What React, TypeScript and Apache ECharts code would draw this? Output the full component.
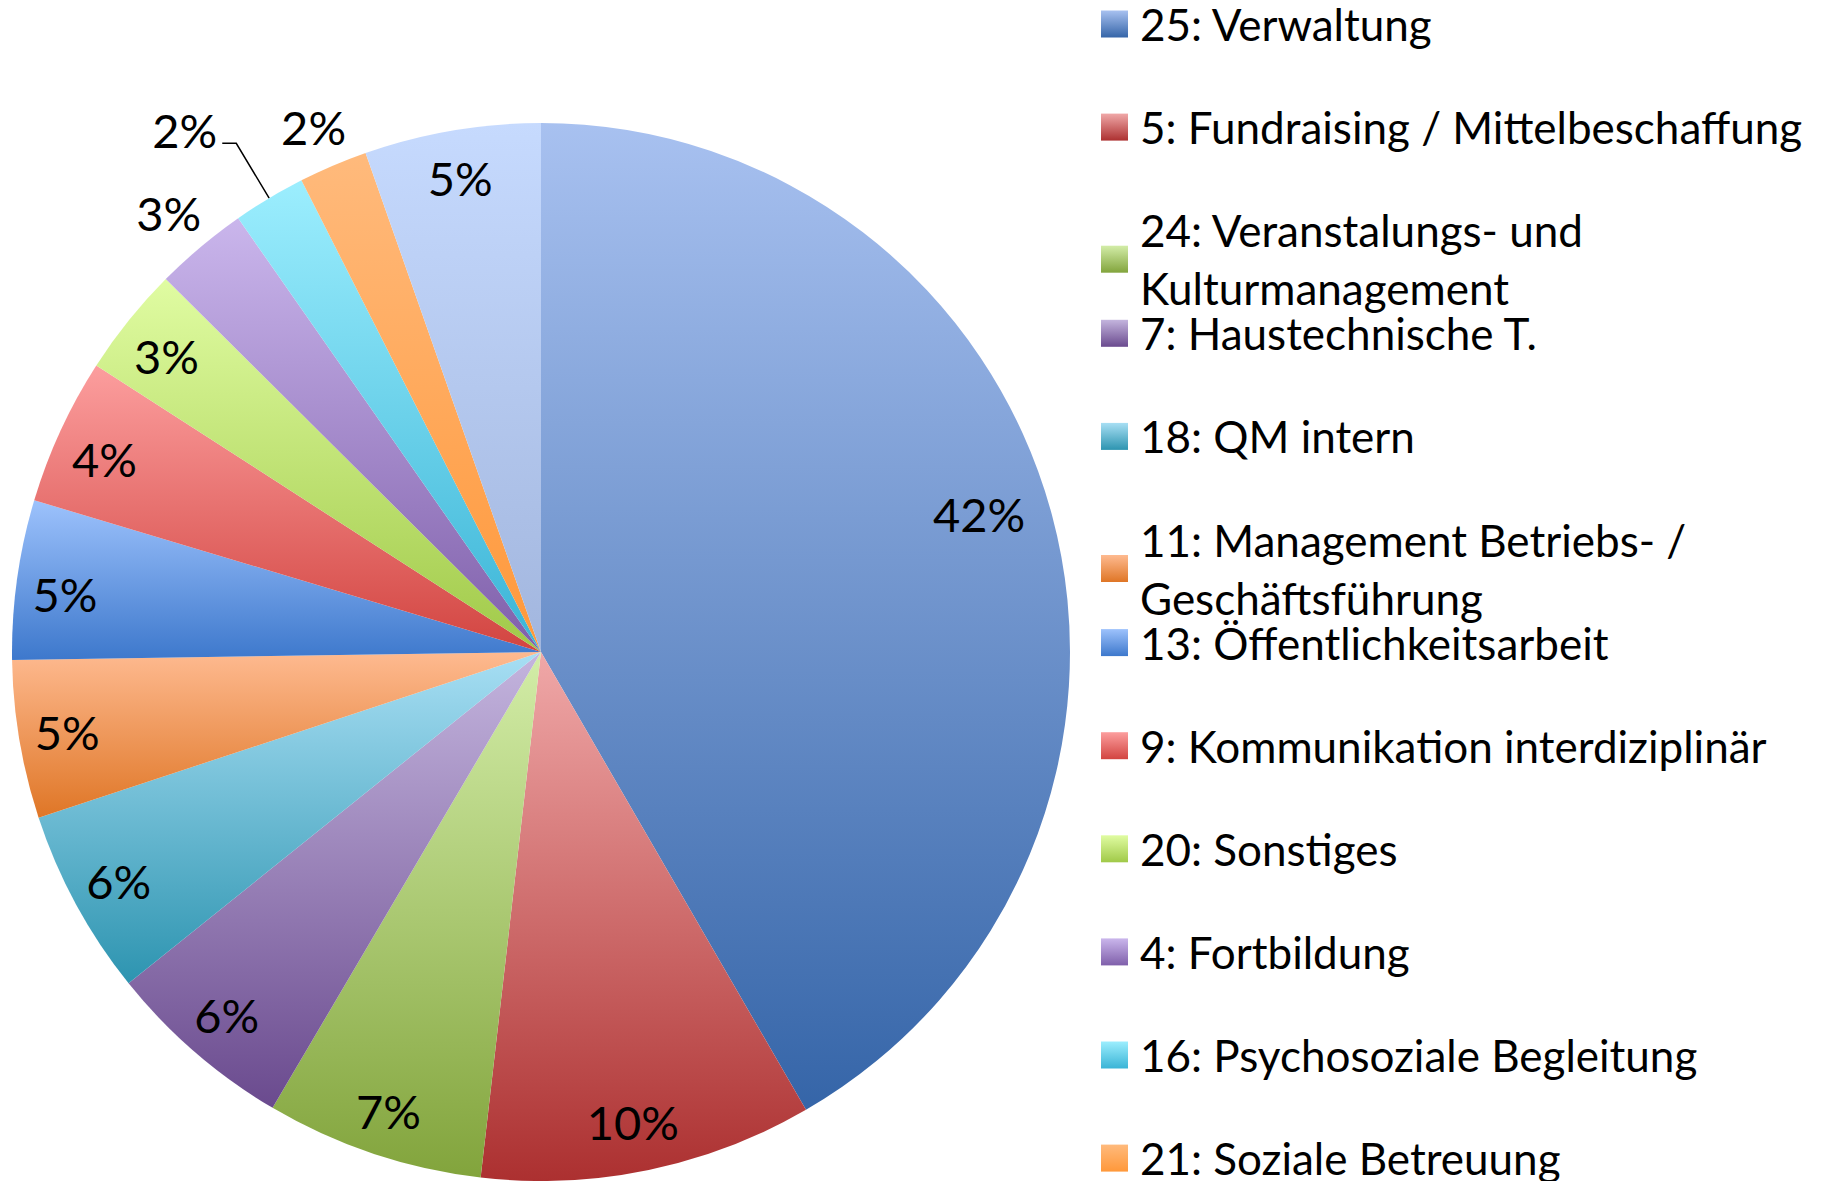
import { useEffect, useRef } from 'react';
import * as echarts from 'echarts';

const categories = [
  '25: Verwaltung',
  '5: Fundraising / Mittelbeschaffung',
  '24: Veranstalungs- und Kulturmanagement',
  '7: Haustechnische T.',
  '18: QM intern',
  '11: Management Betriebs- / Geschäftsführung',
  '13: Öffentlichkeitsarbeit',
  '9: Kommunikation interdiziplinär',
  '20: Sonstiges',
  '4: Fortbildung',
  '16: Psychosoziale Begleitung',
  '21: Soziale Betreuung',
  'Weitere',
];

const legendLabels = [
  '25: Verwaltung',
  '5: Fundraising / Mittelbeschaffung',
  '24: Veranstalungs- und\nKulturmanagement',
  '7: Haustechnische T.',
  '18: QM intern',
  '11: Management Betriebs- /\nGeschäftsführung',
  '13: Öffentlichkeitsarbeit',
  '9: Kommunikation interdiziplinär',
  '20: Sonstiges',
  '4: Fortbildung',
  '16: Psychosoziale Begleitung',
  '21: Soziale Betreuung',
];

const values = [41.65, 10.17, 6.65, 5.76, 5.7, 4.83, 4.87, 4.48, 3.34, 2.85, 2.22, 2.1, 5.38];

const topColors = [
  '#A8C1F0', '#F0A8A8', '#D3EDA8', '#C4B5DE', '#A8DFF4', '#FEBA90', '#9DC2FC',
  '#FC9E9E', '#E0FCA2', '#CAB6EC', '#9CEEFE', '#FFBA7C', '#C6DAFE',
];
const bottomColors = [
  '#3565A8', '#AC3030', '#82A43C', '#6A4A8E', '#2D94B0', '#DF7626', '#3D78CC',
  '#D24440', '#A0C948', '#7F5FAA', '#3AB4D6', '#FF983A', '#A2B6DE',
];

// where each percentage label sits: inside the slice, outside, or outside with a leader line
const labelModes = ['in', 'in', 'in', 'in', 'in', 'in', 'in', 'in', 'in', 'out', 'line', 'out', 'in'];

export default function App() {
  const ref = useRef<HTMLDivElement>(null);

  useEffect(() => {
    document.body.style.margin = '0';
    const chart = echarts.init(ref.current as HTMLDivElement, null, { renderer: 'svg' });
    const cx = 541;
    const cy = 652;
    const R = 529;
    const font = 'Lato';

    // small label placement nudges (px): vertical (+ = down) and leftward shift
    const vShift = [-13, 0, 3, 0, 0, 0, 8, 8, 5, 4, 0, 7, 0];
    const hLeft = [52, 12, 0, 0, 0, 0, 0, 0, 0, 0, 0, 0, 0];

    const grad = (i: number) => ({
      type: 'linear',
      x: 0,
      y: 0,
      x2: 0,
      y2: 1,
      colorStops: [
        { offset: 0, color: topColors[i] },
        { offset: 1, color: bottomColors[i] },
      ],
    });
    const pct = (p: any) => Math.round(p.percent) + '%';
    const shiftedPct = (p: any) => {
      const s = vShift[p.dataIndex];
      const t = pct(p);
      return s > 0 ? '\n' + t : s < 0 ? t + '\n' : t;
    };
    const labelBase = {
      color: '#000',
      fontFamily: font,
      fontSize: 47,
      textBorderWidth: 0,
      formatter: shiftedPct,
    };

    const mainData = categories.map((name, i) => ({
      name,
      value: values[i],
      itemStyle: { color: grad(i) },
      label:
        labelModes[i] === 'line'
          ? {
              show: true,
              position: 'outside',
              ...labelBase,
              lineHeight: 26,
              formatter: (p: any) => pct(p) + '\n',
            }
          : { show: false },
      labelLine:
        labelModes[i] === 'line'
          ? { show: true, length: 64, length2: 14, smooth: false, lineStyle: { color: '#000', width: 1.5 } }
          : { show: false },
    }));

    const overlayData = (mode: string) =>
      categories.map((name, i) => {
        const label: any = { show: labelModes[i] === mode };
        if (vShift[i] !== 0) label.lineHeight = Math.abs(vShift[i]) * 2;
        if (hLeft[i] !== 0) label.padding = [0, hLeft[i], 0, 0];
        return { name, value: values[i], label };
      });

    const legends = legendLabels.map((lbl, i) => {
      const twoLines = lbl.includes('\n');
      const c = 25.8 + 103.1 * i;
      return {
        data: [categories[i]],
        left: 1101,
        top: twoLines ? c - 23.8 : c - 30.8,
        padding: 0,
        icon: 'rect',
        itemWidth: 27,
        itemHeight: 27,
        selectedMode: false,
        formatter: () => lbl,
        textStyle: {
          fontFamily: font,
          fontSize: 44,
          color: '#000',
          lineHeight: 58,
          padding: [0, 0, twoLines ? -58 : 0, 7],
        },
      };
    });

    const overlayCommon = {
      type: 'pie',
      center: [cx, cy],
      startAngle: 90,
      clockwise: true,
      silent: true,
      legendHoverLink: false,
      avoidLabelOverlap: false,
      itemStyle: { color: 'rgba(0,0,0,0)', borderWidth: 0 },
      labelLine: { show: false },
      emphasis: { disabled: true },
    };

    chart.setOption({
      animation: false,
      backgroundColor: '#ffffff',
      legend: legends,
      series: [
        {
          type: 'pie',
          name: 'main',
          center: [cx, cy],
          radius: [0, R],
          startAngle: 90,
          clockwise: true,
          avoidLabelOverlap: false,
          legendHoverLink: false,
          itemStyle: { borderWidth: 0 },
          emphasis: { disabled: true },
          data: mainData,
        },
        {
          ...overlayCommon,
          name: 'labelsInside',
          radius: [Math.round(R * 0.805), R],
          label: { ...labelBase, position: 'inside' },
          data: overlayData('in'),
        },
        {
          ...overlayCommon,
          name: 'labelsOutside',
          radius: [R, Math.round(R * 1.175)],
          label: { ...labelBase, position: 'inside' },
          data: overlayData('out'),
        },
      ],
    });

    return () => {
      chart.dispose();
    };
  }, []);

  return (
    <div
      ref={ref}
      style={{ position: 'absolute', left: 0, top: 0, width: 1832, height: 1181, background: '#fff' }}
    />
  );
}
